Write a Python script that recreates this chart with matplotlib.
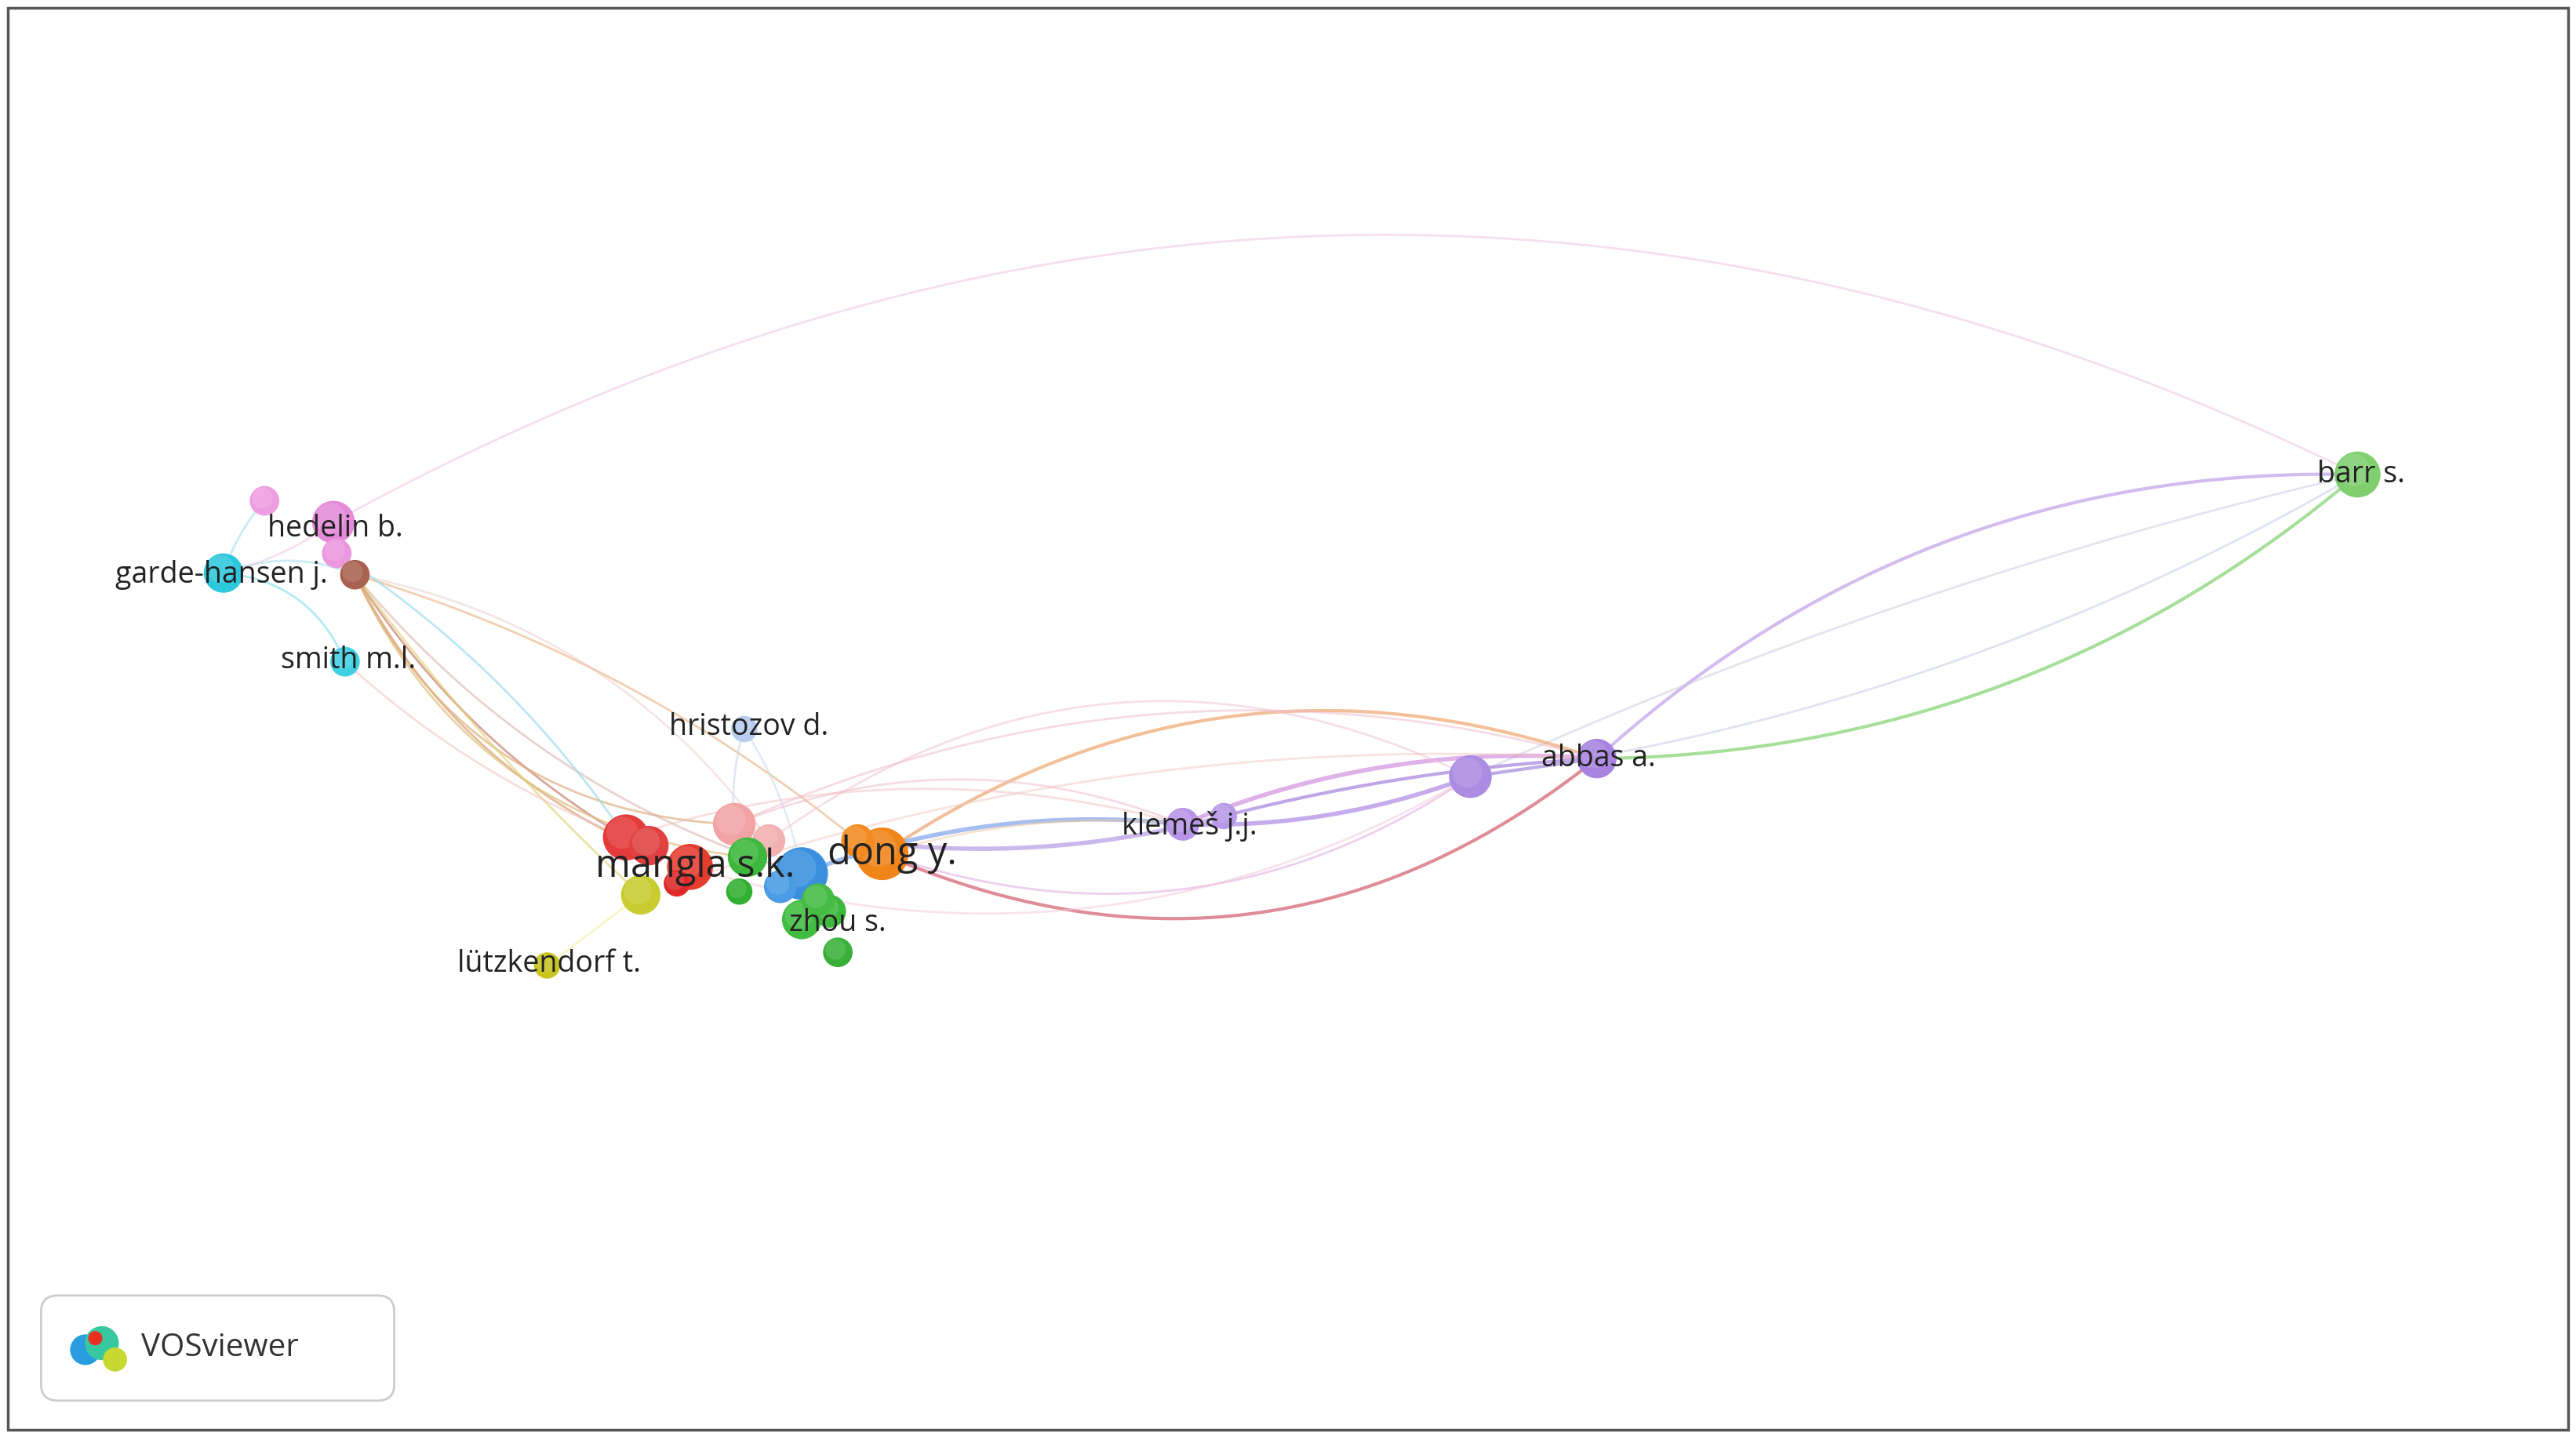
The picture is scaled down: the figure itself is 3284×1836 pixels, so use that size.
import numpy as np
import matplotlib
matplotlib.use("Agg")
import matplotlib.pyplot as plt
from matplotlib.patches import Circle, FancyBboxPatch, Rectangle

W, H = 1568, 877
# nodes: x, y (display px), radius, color
node_x = [1435, 203, 161, 205, 216, 136, 210, 453, 381, 395, 420, 412, 447, 468, 455, 450, 488, 505, 510, 488, 475, 537, 522, 390, 333, 720, 745, 895, 972, 498]
node_y = [289, 318, 305, 337, 350, 349, 403, 444, 510, 515, 528, 538, 502, 512, 522, 543, 560, 555, 580, 532, 540, 520, 512, 545, 588, 502, 497, 473, 462, 548]
node_r = [14, 13, 9, 9, 9, 12, 9, 8, 14, 12, 14, 8, 13, 10, 12, 8, 12, 10, 9, 16, 10, 16, 10, 12, 8, 10, 8, 13, 12, 10]
node_c = ["#7fcf6f", "#e58ad8", "#ee9ee0", "#ec98de", "#a8624f", "#2ec8dc", "#40d0e4", "#b8ccf0",
          "#e43a3a", "#e04040", "#e63c30", "#e02828", "#f2a4a4", "#f2b0b0", "#3cb83c", "#30b030",
          "#40bc40", "#3cb83c", "#38b038", "#3a90de", "#4a9ce4", "#f0851a", "#f28a20", "#c8cc30",
          "#c8c420", "#b894e8", "#b898e8", "#ac8ce2", "#a884e0", "#44bc44"]

labels = ["barr s.", "hedelin b.", "garde-hansen j.", "smith m.l.", "hristozov d.", "mangla s.k.",
          "dong y.", "zhou s.", "lützkendorf t.", "klemeš j.j.", "abbas a."]
label_x = [1437, 204, 135, 212, 456, 423, 543, 510, 334, 724, 973]
label_y = [289, 322, 350, 402, 443, 528, 520, 562, 587, 503, 462]
label_big = [False, False, False, False, False, True, True, False, False, False, False]

# edges: source node, target node, bend, color, alpha, width
edge_s = [1, 0, 0, 0, 28, 28, 21, 21, 19, 25, 27, 28, 4, 4, 4, 4, 4, 4, 4, 5, 5, 6, 5, 1, 4, 7, 7, 12, 12, 13, 21, 8, 10, 23, 22, 26, 27, 3, 2]
edge_t = [0, 28, 28, 27, 25, 21, 28, 27, 25, 27, 28, 11, 8, 10, 14, 12, 19, 23, 22, 6, 4, 9, 1, 4, 13, 12, 19, 28, 25, 27, 25, 25, 27, 24, 26, 28, 0, 8, 5]
edge_b = [-0.26, -0.18, 0.2, 0.05, 0.12, 0.25, 0.3, 0.25, -0.12, 0.1, 0.0, 0.1, 0.12, 0.2, 0.28, 0.3, 0.15, 0.05, -0.1, -0.3, -0.2, 0.1, 0.1, 0.1, -0.2, 0.1, -0.1, -0.18, -0.2, -0.3, -0.1, -0.15, 0.22, 0.0, 0.1, -0.05, 0.1, -0.1, 0.1]
edge_c = ["#e8b0d8", "#90d880", "#c0a0e8", "#c8c8e0", "#d090e0", "#f0b080", "#d87080", "#e0b0e0", "#90b0ee", "#b898e8", "#a880e0", "#f0c8c0", "#c88070", "#d8a070", "#e0c080", "#e0b080", "#d0a8a0", "#e0d070", "#e8b080", "#90e0ee", "#a8e0f0", "#f0c0c0", "#f0c0e8", "#e0a0d0", "#e8c0c0", "#c8d0f0", "#c8d8f0", "#f0b8c8", "#f0b8c8", "#f0c0d0", "#f0c8a0", "#f0c0c0", "#f4c8d8", "#f0f0a0", "#c0a8e8", "#b090e0", "#b0b8e0", "#a0dcec", "#a0e0f0"]
edge_a = [0.4, 0.8, 0.7, 0.5, 0.7, 0.8, 0.8, 0.6, 0.8, 0.8, 0.7, 0.5, 0.7, 0.7, 0.7, 0.7, 0.5, 0.6, 0.6, 0.7, 0.6, 0.5, 0.5, 0.6, 0.4, 0.5, 0.5, 0.5, 0.5, 0.5, 0.5, 0.5, 0.5, 0.6, 0.8, 0.8, 0.4, 0.7, 0.6]
edge_w = [2, 3, 3, 2, 4, 3, 3, 2, 4, 4, 3, 2, 2, 2, 2, 2, 2, 2, 2, 2, 2, 2, 2, 2, 2, 2, 2, 2, 2, 2, 2, 2, 2, 2, 4, 3, 2, 2, 2]

fig = plt.figure(figsize=(32.84, 18.36), dpi=100)
ax = fig.add_axes([0, 0, 1, 1])
ax.set_xlim(0, W)
ax.set_ylim(H, 0)
ax.axis("off")
plt.rcParams['font.family'] = ['Open Sans', 'DejaVu Sans']

ax.add_patch(Rectangle((5, 5), 1558, 866, fill=False, ec="#555555", lw=2.5, zorder=0))

t = np.linspace(0, 1, 80)
for s, d, b, c, a, w in zip(edge_s, edge_t, edge_b, edge_c, edge_a, edge_w):
    p0 = np.array([node_x[s], node_y[s]], float)
    p2 = np.array([node_x[d], node_y[d]], float)
    m = (p0 + p2) / 2
    v = p2 - p0
    n = np.array([-v[1], v[0]])
    p1 = m + n * b
    pts = ((1 - t)[:, None] ** 2) * p0 + (2 * (1 - t) * t)[:, None] * p1 + (t[:, None] ** 2) * p2
    ax.plot(pts[:, 0], pts[:, 1], color=c, alpha=a, lw=w, zorder=1, solid_capstyle="round")

for x, y, r, c in zip(node_x, node_y, node_r, node_c):
    ax.add_patch(Circle((x, y), r, color=c, zorder=3, ec="none"))
    ax.add_patch(Circle((x - r * 0.15, y - r * 0.2), r * 0.7, color="white", alpha=0.12, zorder=3, ec="none"))

for lab, x, y, big in zip(labels, label_x, label_y, label_big):
    ax.text(x, y, lab, fontsize=35 if big else 27, color="#222222", ha="center", va="center", zorder=5)

ax.add_patch(FancyBboxPatch((25, 789), 215, 64, boxstyle="round,pad=0,rounding_size=10",
                            fc="white", ec="#cccccc", lw=2, zorder=4))
ax.text(86, 821, "VOSviewer", fontsize=29, color="#333333", ha="left", va="center", zorder=5)
ax.add_patch(Circle((52, 822), 9, color="#2a9de0", zorder=5))
ax.add_patch(Circle((62, 818), 10, color="#38c8a0", zorder=5))
ax.add_patch(Circle((70, 828), 7, color="#c8d830", zorder=5))
ax.add_patch(Circle((58, 815), 4, color="#e83020", zorder=6))

fig.savefig("out.png", dpi=100, facecolor="white")
